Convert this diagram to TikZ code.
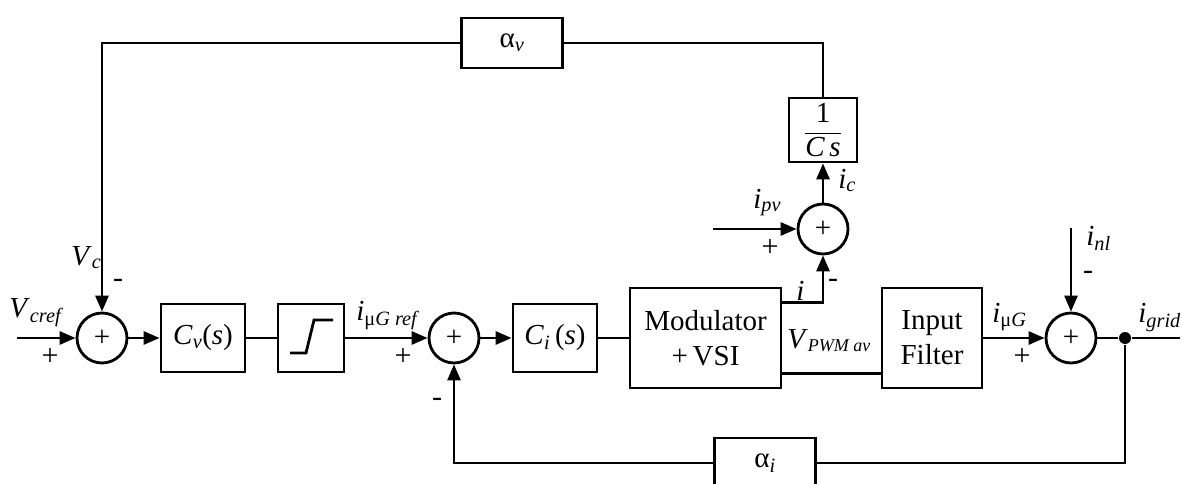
\documentclass[tikz,border=0pt]{standalone}
\usepackage{amsmath}
\usepackage{fontspec}
\setmainfont{Liberation Serif}
\usetikzlibrary{arrows.meta,calc}

\begin{document}
\begin{tikzpicture}[x=1pt,y=-1pt,line width=2.8pt,
    font=\fontsize{29}{35}\selectfont,
    blk/.style={draw,inner sep=0pt,align=center},
    sumnode/.style={draw,circle,minimum size=50pt,inner sep=0pt},
    sgn/.style={inner sep=0pt,font=\fontsize{30}{30}\selectfont},
    lbl/.style={inner sep=0pt,anchor=base west},
    sig/.style={-{Triangle[length=16pt,width=13pt]}}]
  \useasboundingbox (0,0) rectangle (1182,484);

  \node[sumnode] (s1) at (102,338) {+};
  \node[blk,minimum width=84pt,minimum height=68pt] (cv) at (203,338)
    {\textit{C}\textsubscript{\textit{v}}(\textit{s})};
  \node[blk,minimum width=66pt,minimum height=68pt] (sat) at (311,338) {};
  \node[sumnode] (s3) at (454,338) {+};
  \node[blk,minimum width=84pt,minimum height=68pt] (ci) at (555,338)
    {\textit{C}\textsubscript{\textit{i}}\,(\textit{s})};
  \node[blk,minimum width=151pt,minimum height=100pt] (mod) at (705.5,338)
    {Modulator\\+\,VSI};
  \node[blk,minimum width=100pt,minimum height=100pt] (filt) at (932,338)
    {Input\\Filter};
  \node[sumnode] (s4) at (1071,338) {+};
  \node[circle,fill,inner sep=0pt,minimum size=12pt] (dot) at (1125,338) {};
  \node[sumnode] (s2) at (823,229) {+};
  \node[blk,minimum width=68pt,minimum height=64pt] (cs) at (823,130)
    {$\dfrac{\text{1}}{\textit{C\,s}}$};
  \node[blk,minimum width=101pt,minimum height=50pt] (av) at (512,43)
    {α\textsubscript{\textit{v}}};
  \node[blk,minimum width=101pt,minimum height=50pt] (ai) at (765,463)
    {α\textsubscript{\textit{i}}};

  \coordinate (vin) at (17,338);
  \coordinate (gout) at (1180,338);
  \coordinate (pvin) at (713,229);
  \coordinate (nlin) at (1071,228);

  \draw ([shift={(-21,15)}]sat.center) -- ([shift={(-5,15)}]sat.center)
    -- ([shift={(3,-18)}]sat.center) -- ([shift={(22,-18)}]sat.center);

  \draw[sig] (vin) -- (s1);
  \draw[sig] (s1) -- (cv);
  \draw (cv) -- (sat);
  \draw[sig] (sat) -- (s3);
  \draw[sig] (s3) -- (ci);
  \draw (ci) -- (mod);
  \draw[sig] ([yshift=-16pt]mod.north east) -| (s2);
  \draw ([yshift=16pt]mod.south east) -- ([yshift=16pt]filt.south west);
  \draw[sig] (filt) -- (s4);
  \draw (s4) -- (dot) -- (gout);
  \draw[sig] (nlin) -- (s4);
  \draw[sig] (pvin) -- (s2);
  \draw[sig] (s2) -- (cs);
  \draw (cs) |- (av);
  \draw[sig] (av) -| (s1);
  \draw (dot) |- (ai);
  \draw[sig] (ai) -| (s3);

  \node[sgn] (p1) at (50,357) {+};
  \node[sgn] (m1) at (118,283) {-};
  \node[sgn] (p3) at (403,357) {+};
  \node[sgn] (m3) at (437,402) {-};
  \node[sgn] (m2) at (833,283) {-};
  \node[sgn] (p2) at (770,248) {+};
  \node[sgn] (p4) at (1022,357) {+};
  \node[sgn] (m4) at (1088,275) {-};

  \node[lbl] (lvcref) at (8,317) {\textit{V}\textsubscript{\textit{cref}}};
  \node[lbl] (lvc) at (70,265) {\textit{V}\textsubscript{\textit{c}}};
  \node[lbl] (liref) at (355,320) {\textit{i}\textsubscript{μ\textit{G ref}}};
  \node[lbl] (li) at (795,300) {\textit{i}};
  \node[lbl] (lvpwm) at (786,348)
    {\textit{V}\textsubscript{\fontsize{18}{18}\selectfont\textit{PWM av}}};
  \node[lbl] (lipv) at (752,208) {\textit{i}\textsubscript{\textit{pv}}};
  \node[lbl] (lic) at (837,188) {\textit{i}\textsubscript{\textit{c}}};
  \node[lbl] (limg) at (991,322) {\textit{i}\textsubscript{μ\textit{G}}};
  \node[lbl] (linl) at (1085,245) {\textit{i}\textsubscript{\textit{nl}}};
  \node[lbl] (ligrid) at (1137,322) {\textit{i}\textsubscript{\textit{grid}}};
\end{tikzpicture}
\end{document}
